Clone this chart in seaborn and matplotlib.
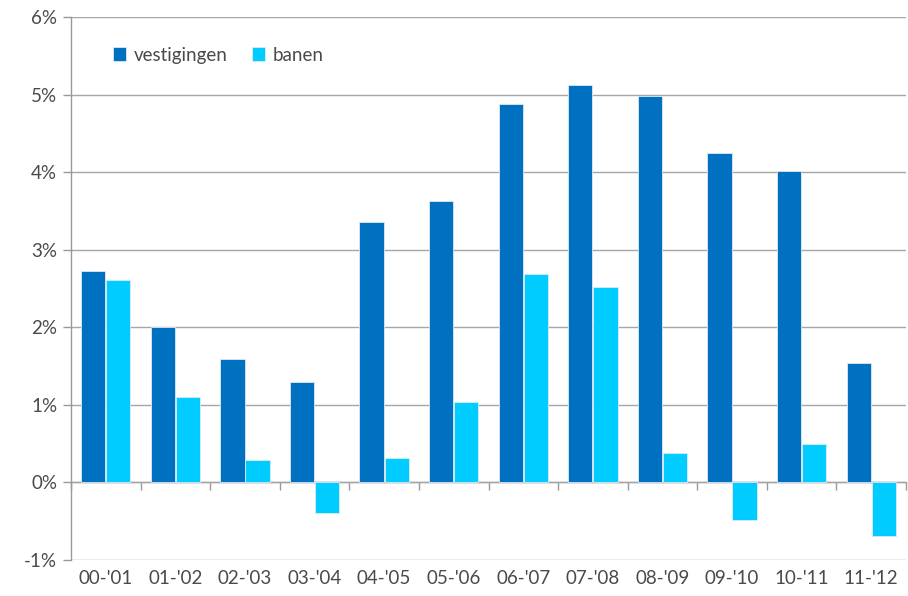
import matplotlib
matplotlib.use("Agg")
import matplotlib.pyplot as plt
import seaborn as sns
import pandas as pd
from matplotlib.ticker import FuncFormatter

categories = ["00-'01", "01-'02", "02-'03", "03-'04", "04-'05", "05-'06",
              "06-'07", "07-'08", "08-'09", "09-'10", "10-'11", "11-'12"]
vestigingen = [2.72, 2.00, 1.59, 1.29, 3.36, 3.63, 4.88, 5.12, 4.98, 4.25, 4.02, 1.54]
banen = [2.61, 1.10, 0.29, -0.40, 0.32, 1.04, 2.69, 2.52, 0.38, -0.48, 0.50, -0.69]
series_names = ["vestigingen", "banen"]
colors = ["#0070C0", "#00CCFF"]
yticks = [-1, 0, 1, 2, 3, 4, 5, 6]

df = pd.DataFrame({
    "periode": categories * 2,
    "waarde": vestigingen + banen,
    "reeks": [series_names[0]] * len(categories) + [series_names[1]] * len(categories),
})

sns.set_theme(style="white")
plt.rcParams["font.family"] = ["Lato", "DejaVu Sans"]

fig = plt.figure(figsize=(9.08, 5.96), dpi=100)
ax = fig.add_axes([71 / 908, 36 / 596, 835 / 908, 543 / 596])

sns.barplot(data=df, x="periode", y="waarde", hue="reeks", order=categories,
            hue_order=series_names, palette=colors, saturation=1, width=0.72,
            gap=0.03, edgecolor="#dfe9f5", linewidth=0.6, ax=ax, legend=True,
            zorder=3)

ax.set_ylim(-1, 6)
ax.set_xlim(-0.5, len(categories) - 0.5)
ax.set_yticks(yticks)
ax.yaxis.set_major_formatter(FuncFormatter(lambda v, p: f"{int(v)}%"))
ax.set_xlabel("")
ax.set_ylabel("")
ax.grid(axis="y", color="#a6a6a6", linewidth=1.0, zorder=0)
ax.set_axisbelow(True)
for s in ["top", "right", "bottom"]:
    ax.spines[s].set_visible(False)
ax.spines["left"].set_color("#999999")
ax.spines["left"].set_linewidth(1.0)
ax.tick_params(axis="y", direction="out", length=6, width=1, color="#999999",
               labelsize=13.5, labelcolor="#4a4a4a", pad=4, left=True)
ax.tick_params(axis="x", length=0, labelsize=13.5, labelcolor="#4a4a4a", pad=7)

# zero axis line with boundary tick marks
sec = ax.secondary_xaxis(1 / 7)
sec.set_xticks([i + 0.5 for i in range(-1, len(categories))])
sec.set_xticklabels([])
sec.spines["bottom"].set_color("#999999")
sec.spines["top"].set_color("#999999")
sec.spines["bottom"].set_linewidth(1.0)
sec.spines["top"].set_linewidth(1.0)
sec.tick_params(axis="x", direction="out", length=6, width=1, color="#999999",
                bottom=True, top=False, labelbottom=False, labeltop=False)
sec.xaxis.set_ticks_position("bottom")

leg = ax.legend(loc="center left", bbox_to_anchor=(0.03, 0.93), ncol=2,
                frameon=False, handlelength=0.7, handleheight=0.7,
                handletextpad=0.4, columnspacing=1.3, fontsize=13.5)
for t in leg.get_texts():
    t.set_color("#4a4a4a")

fig.savefig("out.png", dpi=100)
